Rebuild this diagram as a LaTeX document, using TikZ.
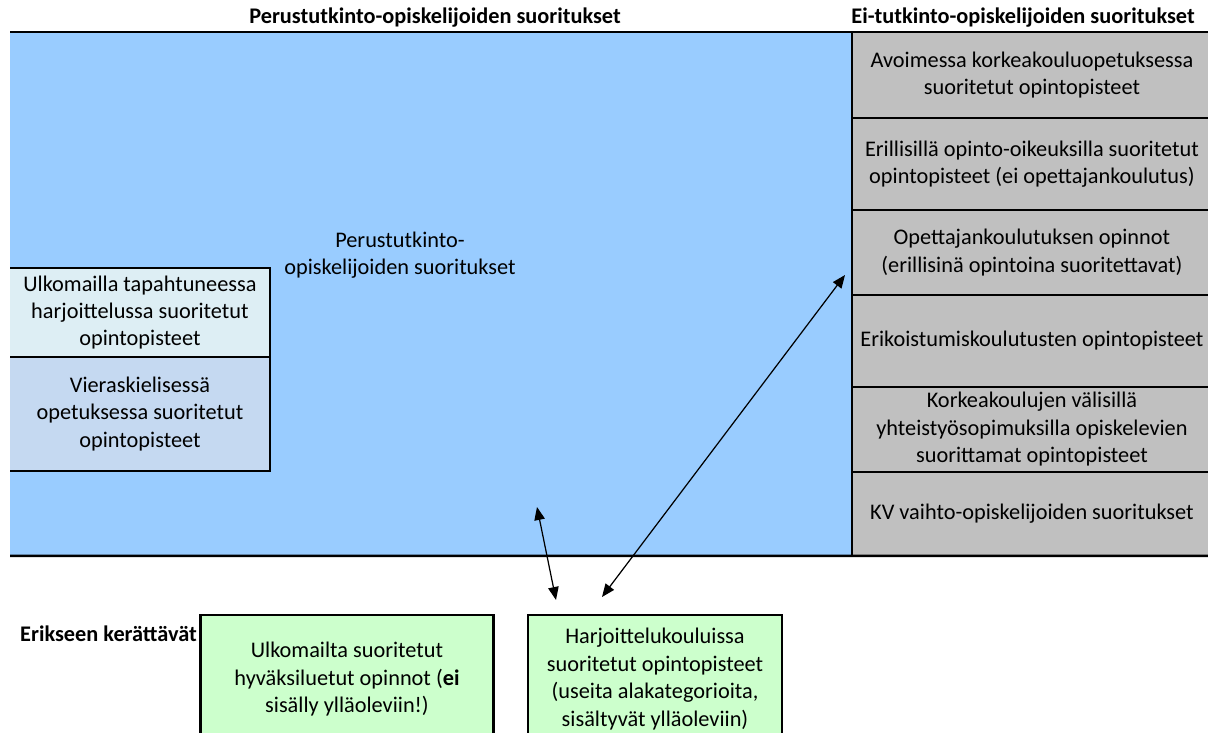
\documentclass[tikz,border=0pt]{standalone}
\usepackage{fontspec}
\setmainfont{Carlito}
\usetikzlibrary{positioning,arrows.meta}
\definecolor{mainblue}{HTML}{99CCFF}
\definecolor{cellgray}{HTML}{C0C0C0}
\definecolor{paleblue}{HTML}{DDEEF4}
\definecolor{softblue}{HTML}{C5D9F1}
\definecolor{palegreen}{HTML}{CCFFCC}
\tikzstyle{gray cell}=[
        draw = black,
        line width = 1.1pt,
        fill = cellgray,
        minimum width = 7.2cm,
        align = center,
        inner sep = 0pt,
        outer sep = 0pt
    ]
\tikzstyle{side cell}=[
    minimum width = 5.2cm,
    align = center,
    inner sep = 0pt,
    outer sep = 0pt
]
\tikzstyle{green cell}=[
    draw = black,
    line width = 1.3pt,
    fill = palegreen,
    minimum height = 2.56cm,
    align = center,
    anchor = north,
    inner sep = 0pt
]

\begin{document}
\begin{tikzpicture}[x=0.02cm, y=-0.02cm, font=\fontsize{12.7}{15.6}\selectfont, head/.style = {font=\fontsize{12.7}{15.6}\selectfont\bfseries}]
        \useasboundingbox (0,0) rectangle (1208,733);

        % perustutkinto area
        \node[fill=mainblue, minimum width=16.84cm, minimum height=10.48cm, anchor=north west, inner sep=0pt, outer sep=0pt] (main) at (10,32) {};
        \node[align=center] (maintext) at (400,255) {Perustutkinto-\\opiskelijoiden suoritukset};
        \node[head] (headmain) at (435,18) {Perustutkinto-opiskelijoiden suoritukset};

        % ei-tutkinto column
        \node[gray cell, minimum height=1.72cm, anchor=north west] (ei1) at (852,32) {Avoimessa korkeakouluopetuksessa\\suoritetut opintopisteet};
        \node[gray cell, minimum height=1.84cm, below=0pt of ei1] (ei2) {Erillisillä opinto-oikeuksilla suoritetut\\opintopisteet (ei opettajankoulutus)};
        \node[gray cell, minimum height=1.70cm, below=0pt of ei2] (ei3) {Opettajankoulutuksen opinnot\\(erillisinä opintoina suoritettavat)};
        \node[gray cell, minimum height=1.84cm, below=0pt of ei3] (ei4) {Erikoistumiskoulutusten opintopisteet};
        \node[gray cell, minimum height=1.70cm, below=0pt of ei4] (ei5) {Korkeakoulujen välisillä\\yhteistyösopimuksilla opiskelevien\\suorittamat opintopisteet};
        \node[gray cell, minimum height=1.68cm, below=0pt of ei5] (ei6) {KV vaihto-opiskelijoiden suoritukset};
        \node[head] (headei) at (1023,18) {Ei-tutkinto-opiskelijoiden suoritukset};

        \draw[line width=1.7pt] (main.north west) -- (ei1.north east);
        \draw[line width=1.5pt] (main.south west) -- (ei6.south east);

        % left boxes
        \node[side cell, fill=paleblue, minimum height=1.78cm, anchor=north west] (abroad) at (10,268) {Ulkomailla tapahtuneessa\\harjoittelussa suoritetut\\opintopisteet};
        \node[side cell, fill=softblue, minimum height=2.28cm, below=0pt of abroad] (foreign) {Vieraskielisessä\\opetuksessa suoritetut\\opintopisteet};
        \draw[line width=1.3pt] (abroad.north west) -- (abroad.north east) -- (foreign.south east) -- (foreign.south west);
        \draw[line width=1.3pt] (abroad.south west) -- (abroad.south east);

        % separately collected
        \node[head, anchor=west] (separate) at (14,634) {Erikseen kerättävät};
        \node[green cell, minimum width=5.86cm] (recog) at (347,614) {Ulkomailta suoritetut\\hyväksiluetut opinnot (\textbf{ei}\\sisälly ylläoleviin!)};
        \node[green cell, minimum width=5.08cm] (practice) at (655,614) {Harjoittelukouluissa\\suoritetut opintopisteet\\(useita alakategorioita,\\sisältyvät ylläoleviin)};

        \coordinate (atop) at (537,507);
        \coordinate (abot) at (556,600);
        \coordinate (btop) at (845,275);
        \coordinate (bbot) at (602,597);
        \draw[{Triangle[length=2.6mm, width=2.1mm]}-{Triangle[length=2.6mm, width=2.1mm]}, line width=0.7pt] (atop) -- (abot);
        \draw[{Triangle[length=2.6mm, width=2.1mm]}-{Triangle[length=2.6mm, width=2.1mm]}, line width=0.7pt] (bbot) -- (btop);

    \end{tikzpicture}
\end{document}
